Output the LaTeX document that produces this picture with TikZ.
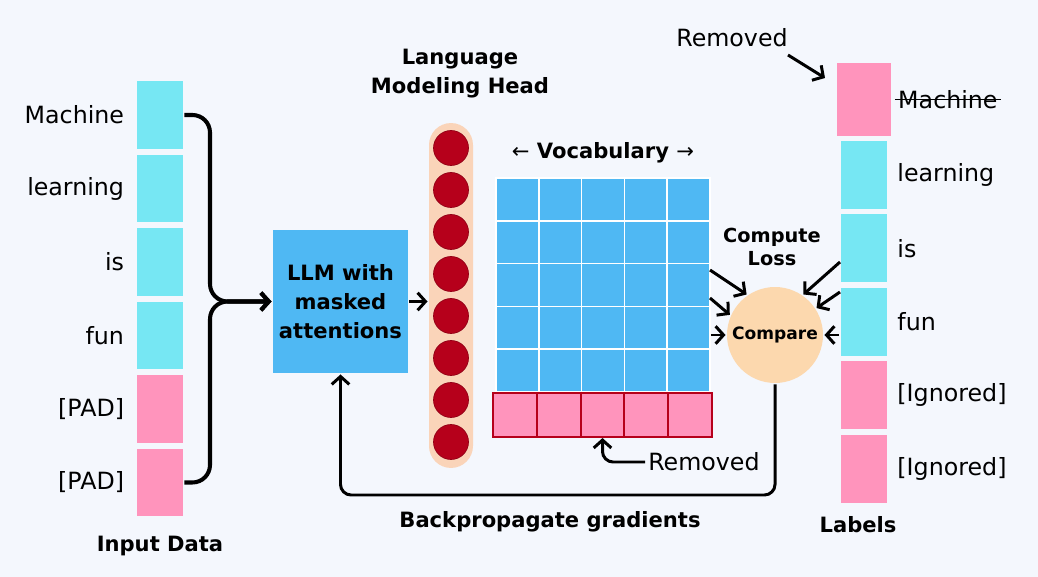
\documentclass[tikz,border=0pt]{standalone}
\usepackage{fontspec}
\setmainfont{DejaVu Sans}
\usetikzlibrary{arrows.meta,positioning}

\definecolor{bgcol}{HTML}{F4F7FD}
\definecolor{tokcyan}{HTML}{76E7F3}
\definecolor{tokpink}{HTML}{FF94BC}
\definecolor{llmblue}{HTML}{4FB8F3}
\definecolor{headpeach}{HTML}{FAD4B9}
\definecolor{neuronred}{HTML}{B6001B}
\definecolor{cmppeach}{HTML}{FCD8AE}

\newcommand{\txtfont}{\fontsize{13.5}{16}\selectfont}
\newcommand{\hdfont}{\fontsize{12}{16.5}\selectfont\bfseries}
\newcommand{\lossfont}{\fontsize{11}{13}\selectfont\bfseries}
\newcommand{\cmpfont}{\fontsize{9.7}{12}\selectfont\bfseries}

\begin{document}
\begin{tikzpicture}
[x=0.02cm, y=-0.02cm, line width=1.7pt, >={Straight Barb[length=4.5pt,width=10pt]},
tok/.style={rectangle, inner sep=0pt, minimum width=0.92cm, minimum height=1.36cm},
word/.style={font=\txtfont, inner sep=1pt},
caption/.style={font=\hdfont, align=center, inner sep=1pt},
llmbox/.style={rectangle, fill=llmblue, minimum width=2.7cm, minimum height=2.86cm, font=\hdfont, align=center},
headpill/.style={rectangle, rounded corners=0.44cm, fill=headpeach, minimum width=0.88cm, minimum height=6.9cm},
neuron/.style={circle, fill=neuronred, draw=neuronred!80!black, line width=0.4pt, inner sep=0pt, minimum size=0.7cm},
vcell/.style={rectangle, fill=llmblue, draw=white, line width=1pt, inner sep=0pt, minimum size=0.856cm},
pcell/.style={rectangle, fill=tokpink, draw=neuronred, line width=1.2pt, inner sep=0pt, minimum width=0.876cm, minimum height=0.88cm},
cmpnode/.style={circle, fill=cmppeach, inner sep=0pt, minimum size=1.92cm, font=\cmpfont}]

\fill[bgcol] (0,0) rectangle (1038,577);
\useasboundingbox (0,0) rectangle (1038,577);

\foreach \w/\c [count=\i from 0] in {Machine/tokcyan, learning/tokcyan, is/tokcyan, fun/tokcyan, {[PAD]}/tokpink, {[PAD]}/tokpink}
{
  \node[tok, fill=\c] (in\i) at (160,115+73.5*\i) {};
  \node[word, left=0.165cm of in\i] (inw\i) {\w};
}
\node[caption] (indata) at (160,546) {Input Data};

\node[llmbox] (llm) at (340.5,301.5) {LLM with\\masked\\attentions};
\coordinate (join) at (210,301.5);
\draw[->, line width=2.3pt, rounded corners=10pt] (in0.east) -| (join) -- (llm.west);
\draw[->, line width=2.3pt, rounded corners=10pt] (in5.east) -| (join) -- (llm.west);

\node[headpill] (head) at (451,295.5) {};
\foreach \k in {0,...,7}
  \node[neuron] (n\k) at (451,148+42*\k) {};
\node[caption] (headlbl) at (460,74) {Language\\Modeling Head};
\draw[->] (llm.east) -- (llm.east -| head.west);

\foreach \r in {0,...,4}
  \foreach \c in {0,...,4}
    \node[vcell] (v\r\c) at (517.4+42.8*\c,199.4+42.8*\r) {};
\foreach \c in {0,...,4}
  \node[pcell] (p\c) at (514.9+43.8*\c,415) {};
\node[caption] (vocab) at (603,153) {{\mdseries ←} Vocabulary {\mdseries →}};

\node[word, anchor=west] (rmgrid) at (645,462) {Removed};
\draw[->, rounded corners=6pt] (rmgrid.west) -| (p2.south);

\node[cmpnode] (cmp) at (775,335) {Compare};
\node[caption, font=\lossfont] (loss) at (772,247) {Compute\\Loss};

\coordinate (la) at (710,270);
\coordinate (lb) at (710,298);
\draw[->] (la) -- (cmp.125);
\draw[->] (lb) -- (cmp.156);
\draw[->] (v34.east |- cmp.west) -- (cmp.west);

\node[tok, fill=tokpink, minimum width=1.08cm, minimum height=1.46cm] (lab0) at (864,99.5) {};
\node[word, right=0.05cm of lab0] (labw0) {Machine};
\draw[line width=0.8pt] (labw0.west) -- (labw0.east);
\foreach \w/\c [count=\i] in {learning/tokcyan, is/tokcyan, fun/tokcyan, {[Ignored]}/tokpink, {[Ignored]}/tokpink}
{
  \node[tok, fill=\c] (lab\i) at (863.5,101.6+73.4*\i) {};
  \node[word, right=0.125cm of lab\i] (labw\i) {\w};
}
\node[caption] (labels) at (858,525) {Labels};

\coordinate (ra) at (840,262);
\coordinate (rb) at (840,292);
\draw[->] (ra) -- (cmp.55);
\draw[->] (rb) -- (cmp.33);
\draw[->] (lab3.west |- cmp.east) -- (cmp.east);

\node[word] (rmlab) at (732,38) {Removed};
\coordinate (rmstart) at (788,55);
\coordinate (rmtip) at (825,78);
\draw[->] (rmstart) -- (rmtip);

\coordinate (bpturn) at (775,495);
\draw[->, rounded corners=6pt] (cmp.south) -- (bpturn) -| (llm.south);
\node[caption] (bp) at (550,522) {Backpropagate gradients};
\end{tikzpicture}
\end{document}
